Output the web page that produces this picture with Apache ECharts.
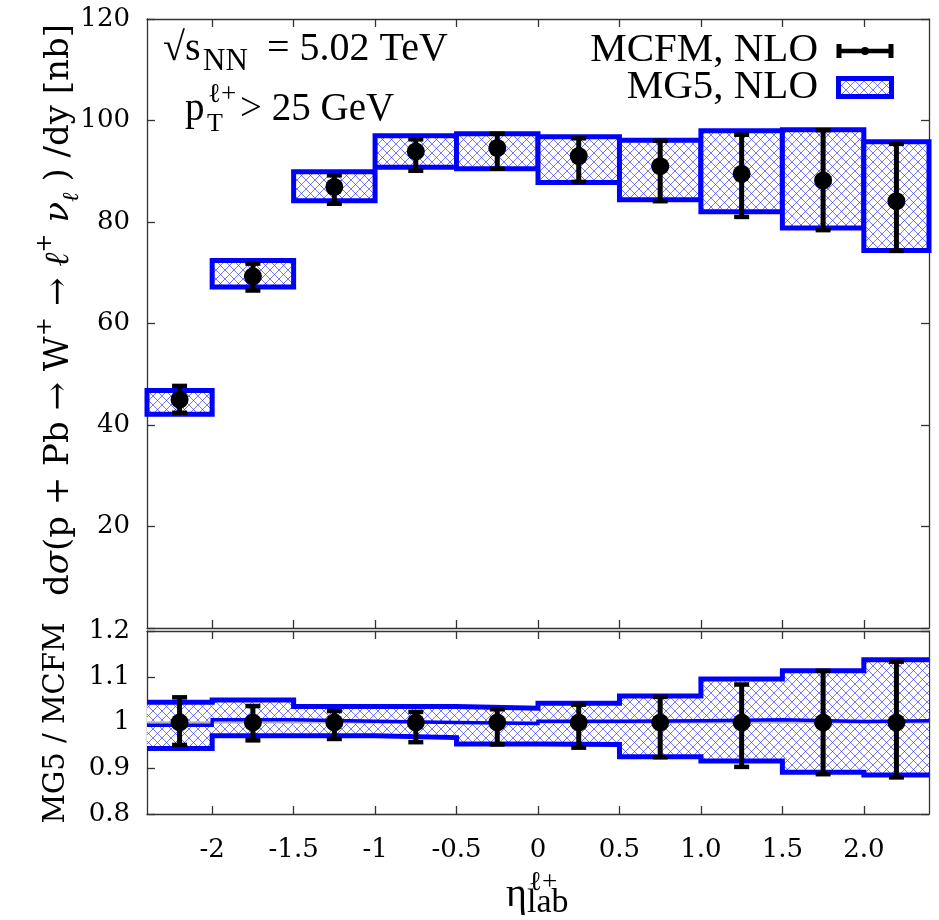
<!DOCTYPE html>
<html><head><meta charset="utf-8">
<script src="https://cdn.jsdelivr.net/npm/echarts@6/dist/echarts.min.js"></script>
<style>html,body{margin:0;padding:0;background:#fff}#c{width:939px;height:920px}</style>
</head><body><div id="c"></div>
<script>
// ---------- data ----------
const binEdges   = [-2.4, -2.0, -1.5, -1.0, -0.5, 0, 0.5, 1.0, 1.5, 2.0, 2.4];
const etaCenters = [-2.2, -1.75, -1.25, -0.75, -0.25, 0.25, 0.75, 1.25, 1.75, 2.2];
// top panel: MCFM NLO (points with error bars)
const mcfmCentral = [45.0, 69.3, 86.9, 93.9, 94.6, 93.0, 91.0, 89.5, 88.2, 84.1];
const mcfmLow     = [42.4, 66.5, 83.6, 90.1, 90.5, 87.9, 84.1, 81.0, 78.4, 74.3];
const mcfmHigh    = [47.7, 71.8, 89.2, 96.3, 97.4, 96.5, 96.0, 97.2, 98.1, 95.4];
// top panel: MG5 NLO band per bin
const mg5Low  = [42.1, 67.2, 84.2, 90.8, 90.5, 87.8, 84.4, 82.0, 78.8, 74.4];
const mg5High = [46.8, 72.4, 89.9, 97.0, 97.4, 96.8, 96.1, 98.0, 98.2, 95.8];
// ratio panel: MG5 / MCFM
const ratioUp  = [1.044, 1.049, 1.035, 1.035, 1.031, 1.042, 1.058, 1.095, 1.113, 1.137];
const ratioLow = [0.943, 0.971, 0.971, 0.967, 0.953, 0.952, 0.925, 0.916, 0.891, 0.885];
const ratioMid = [0.994, 1.006, 1.003, 1.000, 0.998, 1.003, 1.004, 1.006, 1.002, 1.004];
const ratioPoint  = [1, 1, 1, 1, 1, 1, 1, 1, 1, 1];
const ratioErrUp  = [1.055, 1.036, 1.025, 1.023, 1.029, 1.039, 1.056, 1.083, 1.113, 1.133];
const ratioErrLow = [0.951, 0.961, 0.964, 0.957, 0.952, 0.945, 0.924, 0.903, 0.887, 0.880];
const ratioUnity  = [[-2.4, 1], [2.4, 1]];
// ticks
const xTickValues = [-2, -1.5, -1, -0.5, 0, 0.5, 1, 1.5, 2];
const xTickLabels = ['-2', '-1.5', '-1', '-0.5', '0', '0.5', '1.0', '1.5', '2.0'];
const yTopTickValues = [20, 40, 60, 80, 100, 120];
const yRatioTickValues = [0.8, 0.9, 1.0, 1.1, 1.2];
const yRatioTickLabels = ['0.8', '0.9', '1', '1.1', '1.2'];

// ---------- styles ----------
const BLUE = '#0000ff';
const FRAME = '#333';
const tickFont = 'DejaVu Serif';
const bigFont = 'Liberation Serif';

const T = 9;
const tile = document.createElement('canvas');
tile.width = T; tile.height = T;
(function () {
  const g = tile.getContext('2d');
  g.fillStyle = '#fff'; g.fillRect(0, 0, T, T);
  g.strokeStyle = 'rgba(40,40,255,0.7)'; g.lineWidth = 0.9;
  g.beginPath();
  g.moveTo(-1, -1); g.lineTo(T + 1, T + 1);
  g.moveTo(-1, T + 1); g.lineTo(T + 1, -1);
  g.stroke();
})();
const hatch = { image: tile, repeat: 'repeat' };

const binData = (lo, hi) => binEdges.slice(0, -1).map((e, i) => [e, binEdges[i + 1], lo[i], hi[i]]);
const stepData = (vals) => binEdges.map((e, i) => [e, vals[Math.min(i, vals.length - 1)]]);
const errData = (c, lo, hi) => etaCenters.map((x, i) => [x, lo[i], hi[i], c[i]]);

function boxRender(stroke) {
  return function (params, api) {
    const a = api.coord([api.value(0), api.value(3)]);
    const b = api.coord([api.value(1), api.value(2)]);
    return {
      type: 'rect',
      shape: { x: a[0], y: a[1], width: b[0] - a[0], height: b[1] - a[1] },
      style: stroke ? { fill: hatch, stroke: BLUE, lineWidth: 5, lineJoin: 'miter' } : { fill: hatch }
    };
  };
}
function errRender(params, api) {
  const x = api.value(0);
  const lo = api.coord([x, api.value(1)]);
  const hi = api.coord([x, api.value(2)]);
  const c = api.coord([x, api.value(3)]);
  const cw = 7.5;
  return {
    type: 'group', children: [
      { type: 'line', shape: { x1: lo[0], y1: lo[1], x2: hi[0], y2: hi[1] }, style: { stroke: '#000', lineWidth: 5 } },
      { type: 'line', shape: { x1: lo[0] - cw, y1: lo[1], x2: lo[0] + cw, y2: lo[1] }, style: { stroke: '#000', lineWidth: 4.5 } },
      { type: 'line', shape: { x1: hi[0] - cw, y1: hi[1], x2: hi[0] + cw, y2: hi[1] }, style: { stroke: '#000', lineWidth: 4.5 } },
      { type: 'circle', shape: { cx: c[0], cy: c[1], r: 9 }, style: { fill: '#000' } }
    ]
  };
}

const xLabelFmt = (v) => { const i = xTickValues.findIndex(t => Math.abs(t - v) < 1e-9); return i >= 0 ? xTickLabels[i] : ''; };
const yRatioFmt = (v) => { const i = yRatioTickValues.findIndex(t => Math.abs(t - v) < 1e-9); return i >= 0 ? yRatioTickLabels[i] : ''; };

const axisLineStyle = { show: true, onZero: false, lineStyle: { color: FRAME, width: 1.3 } };
const tickStyle = (vals) => ({ show: true, inside: true, length: 8, customValues: vals, lineStyle: { color: FRAME, width: 1.3 } });
const labelStyle = { fontFamily: tickFont, fontSize: 26, color: '#000' };

function xAxis(grid, pos, labels) {
  return {
    type: 'value', gridIndex: grid, position: pos, min: -2.4, max: 2.4,
    axisLine: axisLineStyle, axisTick: tickStyle(xTickValues), splitLine: { show: false },
    axisLabel: labels ? Object.assign({ show: true, customValues: xTickValues, formatter: xLabelFmt, margin: 23 }, labelStyle) : { show: false }
  };
}
function yAxis(grid, pos, min, max, ticks, labels, fmt) {
  return {
    type: 'value', gridIndex: grid, position: pos, min: min, max: max,
    axisLine: axisLineStyle, axisTick: tickStyle(ticks), splitLine: { show: false },
    axisLabel: labels ? Object.assign({ show: true, customValues: labels, margin: 17, formatter: fmt }, labelStyle) : { show: false }
  };
}

const option = {
  animation: false,
  backgroundColor: '#fff',
  grid: [
    { left: 147, right: 10, top: 19, height: 609 },
    { left: 147, right: 10, top: 631, height: 183 }
  ],
  xAxis: [
    xAxis(0, 'bottom', false), xAxis(0, 'top', false),
    xAxis(1, 'bottom', true), xAxis(1, 'top', false)
  ],
  yAxis: [
    yAxis(0, 'left', 0, 120, [0, 20, 40, 60, 80, 100, 120], yTopTickValues, undefined),
    yAxis(0, 'right', 0, 120, [0, 20, 40, 60, 80, 100, 120], null),
    yAxis(1, 'left', 0.8, 1.2, yRatioTickValues, yRatioTickValues, yRatioFmt),
    yAxis(1, 'right', 0.8, 1.2, yRatioTickValues, null)
  ],
  series: [
    { name: 'MG5, NLO', type: 'custom', xAxisIndex: 0, yAxisIndex: 0, renderItem: boxRender(true),
      data: binData(mg5Low, mg5High), z: 2 },
    { name: 'MCFM, NLO', type: 'custom', xAxisIndex: 0, yAxisIndex: 0, renderItem: errRender,
      data: errData(mcfmCentral, mcfmLow, mcfmHigh), z: 5 },
    { name: 'ratio band', type: 'custom', xAxisIndex: 2, yAxisIndex: 2, renderItem: boxRender(false),
      data: binData(ratioLow, ratioUp), z: 2 },
    { name: 'unity', type: 'line', xAxisIndex: 2, yAxisIndex: 2, symbol: 'none',
      data: ratioUnity, lineStyle: { color: '#b0b0b0', width: 2 }, z: 2.5 },
    { name: 'ratio up', type: 'line', xAxisIndex: 2, yAxisIndex: 2, step: 'end', symbol: 'none',
      data: stepData(ratioUp), lineStyle: { color: BLUE, width: 5, join: 'miter' }, z: 3 },
    { name: 'ratio low', type: 'line', xAxisIndex: 2, yAxisIndex: 2, step: 'end', symbol: 'none',
      data: stepData(ratioLow), lineStyle: { color: BLUE, width: 5, join: 'miter' }, z: 3 },
    { name: 'ratio mid', type: 'line', xAxisIndex: 2, yAxisIndex: 2, step: 'end', symbol: 'none',
      data: stepData(ratioMid), lineStyle: { color: BLUE, width: 3.5, join: 'miter' }, z: 3 },
    { name: 'ratio points', type: 'custom', xAxisIndex: 2, yAxisIndex: 2, renderItem: errRender,
      data: errData(ratioPoint, ratioErrLow, ratioErrUp), z: 5 }
  ],
  graphic: [
    // y-axis titles
    { type: 'text', x: 59, y: 310, rotation: Math.PI / 2, style: {
        text: '{t|d}{ti|σ}{t|(p + Pb → W}{sup|+}{t| → }{ti|ℓ}{sup|+}{t| }{ti|ν}{sub|ℓ}{t| ) /dy [nb]}',
        align: 'center', verticalAlign: 'middle',
        rich: {
          t: { fontFamily: tickFont, fontSize: 34, lineHeight: 50, fill: '#000' },
          ti: { fontFamily: tickFont, fontSize: 34, lineHeight: 50, fontStyle: 'italic', fill: '#000' },
          sup: { fontFamily: tickFont, fontSize: 23, lineHeight: 26, verticalAlign: 'top', fill: '#000' },
          sub: { fontFamily: tickFont, fontSize: 23, lineHeight: 26, verticalAlign: 'bottom', fontStyle: 'italic', fill: '#000' }
        } } },
    { type: 'text', x: 56, y: 723, rotation: Math.PI / 2, style: {
        text: 'MG5 / MCFM', fontFamily: tickFont, fontSize: 29, fill: '#000', align: 'center', verticalAlign: 'middle' } },
    // x-axis title
    { type: 'text', x: 506, y: 895, style: { text: 'η', fontFamily: bigFont, fontSize: 40, fill: '#000', verticalAlign: 'middle' } },
    { type: 'text', x: 527, y: 903, style: { text: 'lab', fontFamily: bigFont, fontSize: 34, fill: '#000', verticalAlign: 'middle' } },
    { type: 'text', x: 529, y: 883, style: { text: 'ℓ+', fontFamily: bigFont, fontSize: 27, fill: '#000', verticalAlign: 'middle' } },
    // annotations
    { type: 'text', x: 163, y: 49, style: { text: '√s', fontFamily: bigFont, fontSize: 40, fill: '#000', verticalAlign: 'middle' } },
    { type: 'text', x: 203, y: 62, style: { text: 'NN', fontFamily: bigFont, fontSize: 31, fill: '#000', verticalAlign: 'middle' } },
    { type: 'text', x: 267, y: 49, style: { text: '= 5.02 TeV', fontFamily: bigFont, fontSize: 40, fill: '#000', verticalAlign: 'middle' } },
    { type: 'text', x: 185, y: 110, style: { text: 'p', fontFamily: bigFont, fontSize: 39, fill: '#000', verticalAlign: 'middle' } },
    { type: 'text', x: 207, y: 124, style: { text: 'T', fontFamily: bigFont, fontSize: 26, fill: '#000', verticalAlign: 'middle' } },
    { type: 'text', x: 208, y: 95, style: { text: 'ℓ+', fontFamily: bigFont, fontSize: 27, fill: '#000', verticalAlign: 'middle' } },
    { type: 'text', x: 240, y: 110, style: { text: '> 25 GeV', fontFamily: bigFont, fontSize: 39, fill: '#000', verticalAlign: 'middle' } },
    // legend
    { type: 'text', x: 818, y: 50, style: { text: 'MCFM, NLO', fontFamily: bigFont, fontSize: 41, fill: '#000', align: 'right', verticalAlign: 'middle' } },
    { type: 'text', x: 818, y: 87, style: { text: 'MG5, NLO', fontFamily: bigFont, fontSize: 41, fill: '#000', align: 'right', verticalAlign: 'middle' } },
    { type: 'line', shape: { x1: 838, y1: 51, x2: 892, y2: 51 }, style: { stroke: '#000', lineWidth: 4.5 } },
    { type: 'line', shape: { x1: 839, y1: 44, x2: 839, y2: 58 }, style: { stroke: '#000', lineWidth: 5 } },
    { type: 'line', shape: { x1: 891, y1: 44, x2: 891, y2: 58 }, style: { stroke: '#000', lineWidth: 5 } },
    { type: 'circle', shape: { cx: 865, cy: 51, r: 4 }, style: { fill: '#000' } },
    { type: 'rect', shape: { x: 838.5, y: 78.5, width: 53, height: 18 }, style: { fill: hatch, stroke: BLUE, lineWidth: 5 } }
  ]
};

const chart = echarts.init(document.getElementById('c'), null, { renderer: 'canvas' });
chart.setOption(option);
</script>
</body></html>
